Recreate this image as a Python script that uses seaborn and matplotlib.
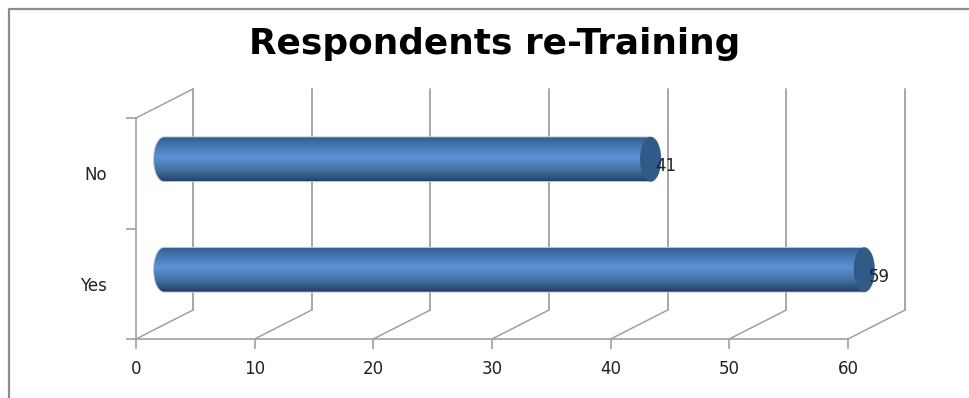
import numpy as np
import pandas as pd
import matplotlib
matplotlib.use("Agg")
import matplotlib.pyplot as plt
from matplotlib.colors import LinearSegmentedColormap
from matplotlib.lines import Line2D
from matplotlib.patches import Ellipse, PathPatch
from matplotlib.path import Path
from matplotlib.transforms import Affine2D
import seaborn as sns

categories = ["No", "Yes"]
values = [41, 59]
x_ticks = [0, 10, 20, 30, 40, 50, 60]
title = "Respondents re-Training"

W, H = 969, 398
sns.set_style("white")
plt.rcParams["font.family"] = ["DejaVu Sans"]
fig = plt.figure(figsize=(W / 100, H / 100), dpi=100)
L, R, T, B = 136, 848, 118, 339
ax = fig.add_axes([L / W, 1 - B / H, (R - L) / W, (B - T) / H])

df = pd.DataFrame({"cat": categories, "val": values})
sns.barplot(data=df, x="val", y="cat", orient="h", width=0.405, color="#4a7ebb",
            ax=ax, zorder=5)
ax.set_xlim(0, 60)
ax.set_ylim(1.5, -0.5)
ax.set_xlabel("")
ax.set_ylabel("")

GRID = "#a0a0a0"
TXT = "#222222"
FS = 12
for s in ["top", "right"]:
    ax.spines[s].set_visible(False)
for s in ["left", "bottom"]:
    ax.spines[s].set_color(GRID)
    ax.spines[s].set_linewidth(1.2)
ax.set_xticks(x_ticks)
ax.set_yticks([0, 1])
ax.set_yticks([-0.5, 0.5, 1.5], minor=True)
ax.tick_params(axis="x", bottom=True, direction="out", length=7, width=1.2, color=GRID,
               labelsize=FS, labelcolor=TXT, pad=8)
ax.tick_params(axis="y", which="major", left=True, direction="out", length=0,
               labelsize=FS, labelcolor=TXT, pad=21)
ax.tick_params(axis="y", which="minor", left=True, direction="out", length=7, width=1.2,
               color=GRID)
for lab in ax.get_yticklabels():
    lab.set_va("center")
    lab.set_transform(lab.get_transform() + Affine2D().translate(0, -2))

# back wall: pixel shift of the depth direction
back = Affine2D().translate(57, 29)
to_back = ax.transData + back
for v in x_ticks:
    ax.add_line(Line2D([v, v], [1.5, -0.5], transform=to_back, color=GRID, lw=1.3,
                       clip_on=False, zorder=1))
    dx0, dy0 = ax.transData.transform((v, 1.5))
    ax.add_line(Line2D([dx0, dx0 + 57], [dy0, dy0 + 29], transform=None, color=GRID,
                       lw=1.1, clip_on=False, zorder=1))
tx, ty = ax.transData.transform((0, -0.5))
ax.add_line(Line2D([tx, tx + 57], [ty, ty + 29], transform=None, color=GRID, lw=1.1,
                   clip_on=False, zorder=1))

# cylinders: gradient body clipped to the bar outline, with an end cap
mid = Affine2D().translate(28, 14)
to_mid = ax.transData + mid
px_per_unit = (R - L) / 60
rx = 10.5 / px_per_unit
cmap = LinearSegmentedColormap.from_list(
    "cyl", [(0, "#2f5b8c"), (0.12, "#3c6ea6"), (0.45, "#5b93d6"),
            (0.75, "#41709f"), (0.93, "#2b4c75"), (1, "#1f3a5c")])
grad = np.linspace(0, 1, 256).reshape(-1, 1)
k = 0.5523
for p, val in zip(list(ax.patches), values):
    y0, h = p.get_y(), p.get_height()
    y1 = y0 + h
    yc = y0 + h / 2
    p.set_visible(False)
    verts = [(0, y0), (val, y0),
             (val + k * rx, y0), (val + rx, yc - k * h / 2), (val + rx, yc),
             (val + rx, yc + k * h / 2), (val + k * rx, y1), (val, y1),
             (0, y1),
             (-k * rx, y1), (-rx, yc + k * h / 2), (-rx, yc),
             (-rx, yc - k * h / 2), (-k * rx, y0), (0, y0), (0, y0)]
    codes = [Path.MOVETO, Path.LINETO] + [Path.CURVE4] * 6 + [Path.LINETO] + \
            [Path.CURVE4] * 6 + [Path.CLOSEPOLY]
    outline = PathPatch(Path(verts, codes), transform=to_mid, fc="none",
                        ec="#c3ccd8", lw=0.7, clip_on=False, zorder=6)
    ax.add_patch(outline)
    im = ax.imshow(grad, cmap=cmap, aspect="auto", extent=(-rx, val + rx, y1, y0),
                   transform=to_mid, zorder=5, interpolation="bilinear")
    im.set_clip_path(outline)
    im.set_clip_box(fig.bbox)
    ax.add_patch(Ellipse((val, yc), 2 * rx, h, transform=to_mid, fc="#315a88",
                         ec="none", clip_on=False, zorder=7))
ax.set_xlim(0, 60)
ax.set_ylim(1.5, -0.5)

# data labels, placed past the cap of each cylinder
for i, val in enumerate(values):
    ax.annotate(str(val), xy=(val, i), xycoords="data", xytext=(33, 7),
                textcoords="offset pixels", ha="left", va="center", fontsize=FS,
                color=TXT, zorder=8, annotation_clip=False)

fig.text(495 / W, 1 - 44 / H, title, ha="center", va="center", fontsize=25.8,
         fontweight="bold", color="black")

# chart frame
fig.add_artist(Line2D([9 / W, 9 / W, 1], [0, 1 - 9 / H, 1 - 9 / H],
                      color="#8c8c8c", lw=1.6))
fig.savefig("out.png", dpi=100)
